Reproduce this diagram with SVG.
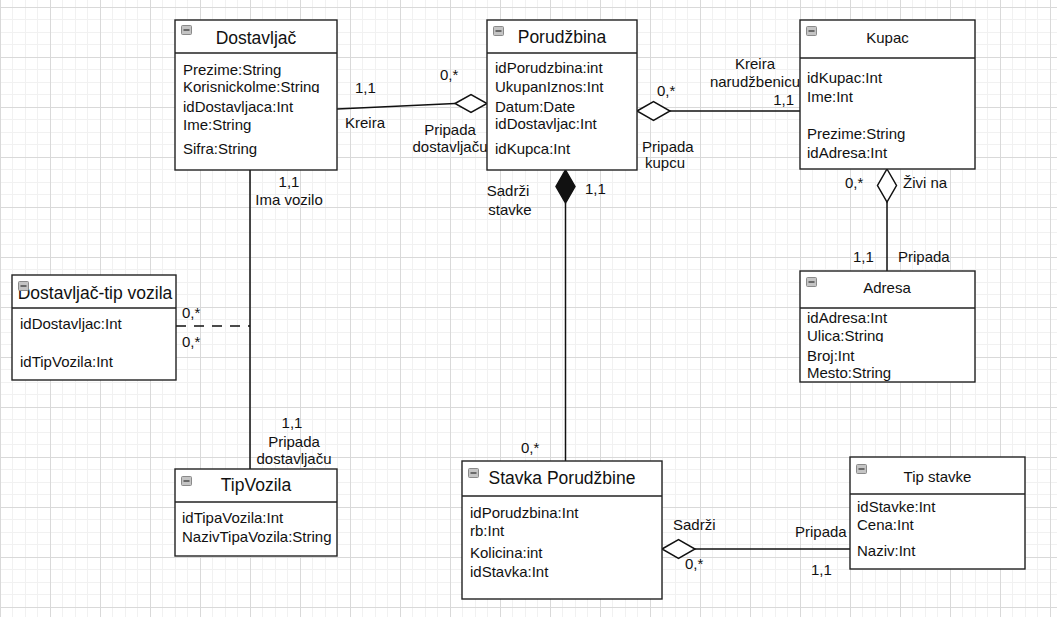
<svg xmlns="http://www.w3.org/2000/svg" width="1057" height="617" viewBox="0 0 1057 617">
<style>
.box{fill:#fff;stroke:#222;stroke-width:1.4}
.div{stroke:#222;stroke-width:1.4}
.hdr{font-family:"Liberation Sans",Arial,sans-serif;font-size:17.5px;fill:#111;text-anchor:middle}
.hdrs{font-family:"Liberation Sans",Arial,sans-serif;font-size:15px;fill:#111;text-anchor:middle}
.att{font-family:"Liberation Sans",Arial,sans-serif;font-size:15px;fill:#111}
.lbl{font-family:"Liberation Sans",Arial,sans-serif;font-size:15px;fill:#111}
.ico{fill:#c4c4c4;stroke:#8a8a8a;stroke-width:1}
.icl{stroke:#444;stroke-width:1.4}
.con{fill:none;stroke:#111;stroke-width:1.5}
.hol{fill:#fff;stroke:#111;stroke-width:1.5}
.fil{fill:#111;stroke:#111;stroke-width:1.5}
</style>
<defs>
<pattern id="grid" x="0" y="7" width="50" height="50" patternUnits="userSpaceOnUse">
<rect x="12" y="0" width="1" height="50" fill="#f1f1f1"/>
<rect x="25" y="0" width="1" height="50" fill="#f1f1f1"/>
<rect x="37" y="0" width="1" height="50" fill="#f1f1f1"/>
<rect x="0" y="12" width="50" height="1" fill="#f1f1f1"/>
<rect x="0" y="25" width="50" height="1" fill="#f1f1f1"/>
<rect x="0" y="37" width="50" height="1" fill="#f1f1f1"/>
<rect x="0" y="0" width="1" height="50" fill="#d9d9d9"/>
<rect x="0" y="0" width="50" height="1" fill="#d9d9d9"/>
</pattern>
<clipPath id="c1"><rect x="175" y="78" width="162" height="15"/></clipPath>
<clipPath id="c2"><rect x="800" y="326" width="175" height="16"/></clipPath>
<clipPath id="c3"><rect x="800" y="362" width="175" height="19"/></clipPath>
<g id="icon"><rect class="ico" x="0.5" y="0.5" width="10" height="9" rx="1"/><line class="icl" x1="2.5" y1="5" x2="8.5" y2="5"/></g>
</defs>
<rect width="1057" height="617" fill="#fff"/>
<rect width="1057" height="617" fill="url(#grid)"/>

<g id="connectors">
<!-- Dostavljac - Porudzbina -->
<polyline class="con" points="337,109 455,103.5"/>
<polygon class="hol" points="455,103.5 471,94.5 487,103.5 471,112.5"/>
<text class="lbl" x="355" y="93">1,1</text>
<text class="lbl" x="440" y="80">0,*</text>
<text class="lbl" x="345" y="128">Kreira</text>
<text class="lbl" x="450" y="135" text-anchor="middle">Pripada</text>
<text class="lbl" x="450" y="152" text-anchor="middle">dostavljaču</text>
<!-- Porudzbina - Kupac -->
<line class="con" x1="670" y1="111" x2="800" y2="111"/>
<polygon class="hol" points="637,111 653.5,101.5 670,111 653.5,120.5"/>
<text class="lbl" x="657" y="96">0,*</text>
<text class="lbl" x="755" y="69" text-anchor="middle">Kreira</text>
<text class="lbl" x="800" y="87" text-anchor="end">narudžbenicu</text>
<text class="lbl" x="794" y="105" text-anchor="end">1,1</text>
<text class="lbl" x="642" y="152">Pripada</text>
<text class="lbl" x="665" y="168" text-anchor="middle">kupcu</text>
<!-- Kupac - Adresa -->
<line class="con" x1="887" y1="202" x2="887" y2="271"/>
<polygon class="hol" points="887,169 896.5,185.5 887,202 877.5,185.5"/>
<text class="lbl" x="845" y="188">0,*</text>
<text class="lbl" x="903" y="188">Živi na</text>
<text class="lbl" x="853" y="262">1,1</text>
<text class="lbl" x="898" y="262">Pripada</text>
<!-- Porudzbina - Stavka -->
<line class="con" x1="565.5" y1="203" x2="565.5" y2="461"/>
<polygon class="fil" points="565.5,170 575,186.5 565.5,203 556,186.5"/>
<text class="lbl" x="508" y="196" text-anchor="middle">Sadrži</text>
<text class="lbl" x="510" y="215" text-anchor="middle">stavke</text>
<text class="lbl" x="585" y="194">1,1</text>
<text class="lbl" x="521" y="453">0,*</text>
<!-- Dostavljac - TipVozila -->
<line class="con" x1="250" y1="170" x2="250" y2="469"/>
<text class="lbl" x="289" y="187" text-anchor="middle">1,1</text>
<text class="lbl" x="289" y="205" text-anchor="middle">Ima vozilo</text>
<text class="lbl" x="292" y="428" text-anchor="middle">1,1</text>
<text class="lbl" x="294" y="447" text-anchor="middle">Pripada</text>
<text class="lbl" x="294" y="464" text-anchor="middle">dostavljaču</text>
<!-- Dostavljac-tip vozila dashed -->
<line class="con" x1="176" y1="326" x2="250" y2="326" stroke-dasharray="10 8"/>
<text class="lbl" x="182" y="318">0,*</text>
<text class="lbl" x="182" y="347">0,*</text>
<!-- Stavka - Tip stavke -->
<line class="con" x1="695" y1="549" x2="850" y2="549"/>
<polygon class="hol" points="662,549 678.5,539.5 695,549 678.5,558.5"/>
<text class="lbl" x="673" y="530">Sadrži</text>
<text class="lbl" x="685" y="569">0,*</text>
<text class="lbl" x="795" y="537">Pripada</text>
<text class="lbl" x="811" y="575">1,1</text>
</g>

<g id="dostavljac">
<rect class="box" x="175" y="20" width="162" height="150"/>
<line class="div" x1="175" y1="53" x2="337" y2="53"/>
<text class="hdr" x="256" y="44">Dostavljač</text>
<use href="#icon" x="181" y="25"/>
<text class="att" x="183" y="75">Prezime:String</text>
<text class="att" x="183" y="92" clip-path="url(#c1)">Korisnickolme:String</text>
<text class="att" x="183" y="112">idDostavljaca:Int</text>
<text class="att" x="183" y="130">Ime:String</text>
<text class="att" x="183" y="154">Sifra:String</text>
</g>

<g id="porudzbina">
<rect class="box" x="487" y="20" width="150" height="150"/>
<line class="div" x1="487" y1="53" x2="637" y2="53"/>
<text class="hdr" x="562" y="43">Porudžbina</text>
<use href="#icon" x="493" y="26"/>
<text class="att" x="495" y="73">idPorudzbina:int</text>
<text class="att" x="495" y="92">UkupanIznos:Int</text>
<text class="att" x="495" y="112">Datum:Date</text>
<text class="att" x="495" y="129">idDostavljac:Int</text>
<text class="att" x="495" y="154">idKupca:Int</text>
</g>

<g id="kupac">
<rect class="box" x="800" y="20" width="175" height="149"/>
<line class="div" x1="800" y1="58" x2="975" y2="58"/>
<text class="hdrs" x="887.5" y="43">Kupac</text>
<use href="#icon" x="806" y="26"/>
<text class="att" x="807" y="83">idKupac:Int</text>
<text class="att" x="807" y="102">Ime:Int</text>
<text class="att" x="807" y="139">Prezime:String</text>
<text class="att" x="807" y="158">idAdresa:Int</text>
</g>

<g id="dostavljac-tip-vozila">
<rect class="box" x="12" y="275" width="164" height="105"/>
<line class="div" x1="12" y1="308" x2="176" y2="308"/>
<text class="hdr" x="95" y="299">Dostavljač-tip vozila</text>
<use href="#icon" x="18" y="281"/>
<text class="att" x="20" y="329">idDostavljac:Int</text>
<text class="att" x="20" y="367">idTipVozila:Int</text>
</g>

<g id="adresa">
<rect class="box" x="800" y="271" width="175" height="111"/>
<line class="div" x1="800" y1="308" x2="975" y2="308"/>
<text class="hdrs" x="887" y="293">Adresa</text>
<use href="#icon" x="806" y="277"/>
<text class="att" x="807" y="323">idAdresa:Int</text>
<text class="att" x="807" y="341" clip-path="url(#c2)">Ulica:String</text>
<text class="att" x="807" y="361">Broj:Int</text>
<text class="att" x="807" y="378" clip-path="url(#c3)">Mesto:String</text>
</g>

<g id="tipvozila">
<rect class="box" x="175" y="469" width="162" height="87"/>
<line class="div" x1="175" y1="502" x2="337" y2="502"/>
<text class="hdr" x="256" y="491">TipVozila</text>
<use href="#icon" x="181" y="476"/>
<text class="att" x="182" y="523">idTipaVozila:Int</text>
<text class="att" x="182" y="542">NazivTipaVozila:String</text>
</g>

<g id="stavka-porudzbine">
<rect class="box" x="462" y="461" width="200" height="138"/>
<line class="div" x1="462" y1="496" x2="662" y2="496"/>
<text class="hdr" x="562" y="484">Stavka Porudžbine</text>
<use href="#icon" x="468" y="468"/>
<text class="att" x="470" y="518">idPorudzbina:Int</text>
<text class="att" x="470" y="536">rb:Int</text>
<text class="att" x="470" y="558">Kolicina:int</text>
<text class="att" x="470" y="577">idStavka:Int</text>
</g>

<g id="tip-stavke">
<rect class="box" x="850" y="457" width="175" height="112"/>
<line class="div" x1="850" y1="494" x2="1025" y2="494"/>
<text class="hdrs" x="937.5" y="482">Tip stavke</text>
<use href="#icon" x="856" y="464"/>
<text class="att" x="857" y="512">idStavke:Int</text>
<text class="att" x="857" y="530">Cena:Int</text>
<text class="att" x="857" y="556">Naziv:Int</text>
</g>
</svg>
